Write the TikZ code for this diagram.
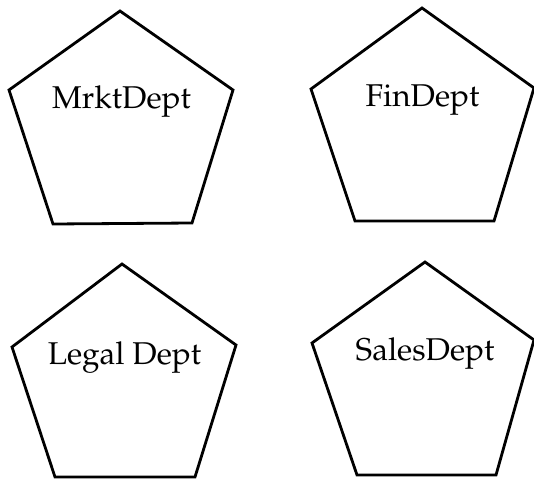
\documentclass[tikz,border=0pt]{standalone}
\usepackage[T1]{fontenc}
\usepackage{mathpazo}
\begin{document}
\begin{tikzpicture}[x=1pt,y=-1pt,
  pent/.style={draw=black,line width=2.8pt,line join=miter},
  lbl/.style={anchor=base,inner sep=0pt,font=\fontsize{31.5}{36}\selectfont}]
\useasboundingbox (0,0) rectangle (534,481);
\fill[white] (0,0) rectangle (534,481);
% pentagons
\draw[pent] (120,11) -- (233,90) -- (192,223) -- (53,224) -- (9,90) -- cycle;
\draw[pent] (422,8) -- (534,88) -- (494,221) -- (355,221) -- (311,89) -- cycle;
\draw[pent] (122,264) -- (236,345) -- (195,477) -- (55,477) -- (12,347) -- cycle;
\draw[pent] (425,262) -- (534,340) -- (496,475) -- (357,475) -- (312,343) -- cycle;
% labels
\node[lbl] (mrkt) at (121.5,109) {MrktDept};
\node[lbl] (fin) at (422.5,107) {FinDept};
\node[lbl] (legal) at (124.5,364) {Legal Dept};
\node[lbl] (sales) at (425,360) {SalesDept};
\end{tikzpicture}
\end{document}
